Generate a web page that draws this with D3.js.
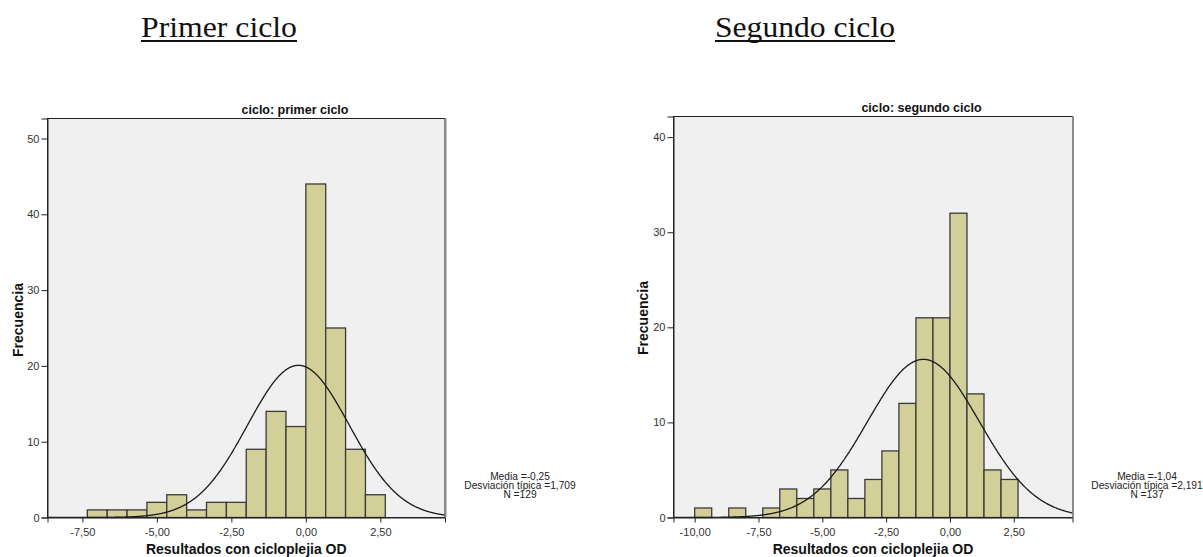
<!DOCTYPE html>
<html><head><meta charset="utf-8">
<script src="https://cdn.jsdelivr.net/npm/d3@7"></script>
<style>html,body{margin:0;padding:0;background:#fff;}svg{display:block;}</style>
</head><body>
<svg id="c" width="1203" height="557"></svg>
<script>
// ---- data ----
const binWidth = 2/3;
const primerBinStart = -22/3;
const primerCounts = [1,1,1,2,3,1,2,2,9,14,12,44,25,9,3];
const primerStats = {mean:-0.25, sd:1.709, n:129};
const primerXTicks = [-7.5,-5,-2.5,0,2.5];
const primerYTicks = [0,10,20,30,40,50];

const segundoBinStart = -10;
const segundoCounts = [1,0,1,0,1,3,2,3,5,2,4,7,12,21,21,32,13,5,4];
const segundoStats = {mean:-1.04, sd:2.191, n:137};
const segundoXTicks = [-10,-7.5,-5,-2.5,0,2.5];
const segundoYTicks = [0,10,20,30,40];

const pageTitles = ["Primer ciclo","Segundo ciclo"];
const panelTitles = ["ciclo: primer ciclo","ciclo: segundo ciclo"];
const xTitle = "Resultados con cicloplejia OD";
const yTitle = "Frecuencia";

const svg = d3.select("#c");
const fmt = v => d3.format(".2f")(v).replace(".",",").replace("−","-");

function panel(cfg){
  const g = svg.append("g");
  const x = d3.scaleLinear().domain(cfg.xDomain).range([cfg.left, cfg.right]);
  const y = d3.scaleLinear().domain(cfg.yDomain).range([cfg.bottom, cfg.top]);
  const id = "clip"+cfg.key;
  svg.append("defs").append("clipPath").attr("id",id).append("rect")
    .attr("x",cfg.left).attr("y",cfg.top).attr("width",cfg.right-cfg.left).attr("height",cfg.bottom-cfg.top);
  // background
  g.append("rect").attr("x",cfg.left).attr("y",cfg.top).attr("width",cfg.right-cfg.left)
    .attr("height",cfg.bottom-cfg.top).attr("fill","#f0f0f0");
  // bars
  const bins = cfg.counts.map((c,i)=>({x0:cfg.start+i*binWidth, x1:cfg.start+(i+1)*binWidth, c}))
    .filter(d=>d.c>0);
  g.append("g").selectAll("rect").data(bins).join("rect")
    .attr("x",d=>x(d.x0)).attr("width",d=>x(d.x1)-x(d.x0))
    .attr("y",d=>y(d.c)).attr("height",d=>y(0)-y(d.c))
    .attr("fill","#d3cf98").attr("stroke","#3a3a3a").attr("stroke-width",1.3);
  // normal curve
  const s = cfg.stats;
  const pts = d3.range(cfg.xDomain[0], cfg.xDomain[1]+0.01, 0.02).map(v=>{
    const z=(v-s.mean)/s.sd;
    return [v, s.n*binWidth*Math.exp(-0.5*z*z)/(s.sd*Math.sqrt(2*Math.PI))];
  });
  g.append("path").datum(pts).attr("clip-path","url(#"+id+")")
    .attr("d",d3.line().x(d=>x(d[0])).y(d=>y(d[1])))
    .attr("fill","none").attr("stroke","#1a1a1a").attr("stroke-width",1.3);
  // frame
  g.append("rect").attr("x",cfg.left).attr("y",cfg.top).attr("width",cfg.right-cfg.left)
    .attr("height",cfg.bottom-cfg.top).attr("fill","none").attr("stroke","#222").attr("stroke-width",1);
  g.append("line").attr("x1",cfg.right+0.5).attr("x2",cfg.right+0.5).attr("y1",cfg.top).attr("y2",cfg.bottom)
    .attr("stroke","#8a8a8a").attr("stroke-width",2);
  // axes
  const ax = g.append("g").attr("transform",`translate(0,${cfg.bottom})`)
    .call(d3.axisBottom(x).tickValues(cfg.xTicks).tickSize(5).tickPadding(6).tickFormat(fmt));
  const ay = g.append("g").attr("transform",`translate(${cfg.left},0)`)
    .call(d3.axisLeft(y).tickValues(cfg.yTicks).tickSize(6).tickPadding(2));
  [ax,ay].forEach(a=>{
    a.select(".domain").attr("stroke","#222");
    a.selectAll(".tick line").attr("stroke","#222");
    a.selectAll("text").attr("font-family","'Liberation Sans', Arial, sans-serif").attr("font-size",11).attr("fill","#333");
  });
  // titles
  g.append("text").attr("x",cfg.ptX).attr("y",cfg.ptY).attr("text-anchor","middle")
    .attr("font-family","'Liberation Sans', Arial, sans-serif").attr("font-weight","bold").attr("font-size",12.5)
    .attr("fill","#111").text(cfg.panelTitle);
  g.append("text").attr("x",(cfg.left+cfg.right)/2).attr("y",554).attr("text-anchor","middle")
    .attr("font-family","'Liberation Sans', Arial, sans-serif").attr("font-weight","bold").attr("font-size",14)
    .attr("fill","#111").text(xTitle);
  g.append("text").attr("transform",`translate(${cfg.yTitleX},${cfg.yTitleY}) rotate(-90)`).attr("text-anchor","middle")
    .attr("font-family","'Liberation Sans', Arial, sans-serif").attr("font-weight","bold").attr("font-size",14)
    .attr("fill","#111").text(yTitle);
  // stats
  const lines = ["Media ="+fmt(s.mean).replace(/0$/,"").replace(/,(\d)$/,",$10"),
    "Desviación típica ="+d3.format(".3f")(s.sd).replace(".",","), "N ="+s.n];
  lines[0] = "Media ="+d3.format(".2f")(s.mean).replace(".",",").replace("−","-");
  const st = g.append("text").attr("text-anchor","middle")
    .attr("font-family","'Liberation Sans', Arial, sans-serif").attr("font-size",10.2).attr("fill","#222");
  lines.forEach((l,i)=>st.append("tspan").attr("x",cfg.statX).attr("y",480+i*9).text(l));
  // page title
  const t = svg.append("text").attr("x",cfg.pageX).attr("y",37)
    .attr("font-family","'Liberation Serif', 'Times New Roman', serif").attr("font-size",29)
    .attr("fill","#111").attr("textLength",cfg.pageW).attr("lengthAdjust","spacingAndGlyphs").text(cfg.pageTitle);
  svg.append("rect").attr("x",cfg.pageX).attr("y",40).attr("width",cfg.pageW).attr("height",2).attr("fill","#111");
}

panel({key:"a", left:47.5, right:445, top:118.5, bottom:517.5,
  xDomain:[-8.67,4.67], yDomain:[0,52.64], counts:primerCounts, start:primerBinStart,
  stats:primerStats, xTicks:primerXTicks, yTicks:primerYTicks,
  panelTitle:panelTitles[0], ptX:295, ptY:114, yTitleX:23, yTitleY:320,
  statX:520, pageTitle:pageTitles[0], pageX:141, pageW:156});
panel({key:"b", left:673.5, right:1072.5, top:116.5, bottom:517.5,
  xDomain:[-10.83,4.80], yDomain:[0,42.17], counts:segundoCounts, start:segundoBinStart,
  stats:segundoStats, xTicks:segundoXTicks, yTicks:segundoYTicks,
  panelTitle:panelTitles[1], ptX:921.5, ptY:112, yTitleX:648, yTitleY:318,
  statX:1147, pageTitle:pageTitles[1], pageX:715, pageW:180});
</script>
</body></html>
